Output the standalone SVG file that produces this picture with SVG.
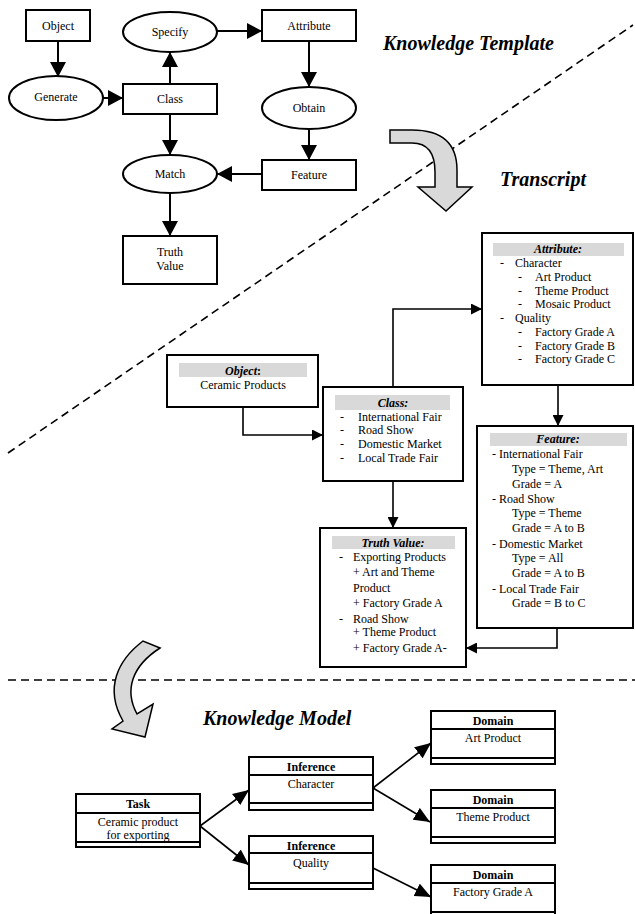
<svg xmlns="http://www.w3.org/2000/svg" width="635" height="914" viewBox="0 0 635 914">
<defs>
<style>
text{font-family:"Liberation Serif","Times New Roman",serif;font-size:12px;fill:#000}
.c{text-anchor:middle}
.bi{font-weight:bold;font-style:italic}
.b{font-weight:bold}
.title{font-size:20px;font-weight:bold;font-style:italic}
.n{fill:#fff;stroke:#000;stroke-width:2}
.tn{fill:#fff;stroke:#000;stroke-width:2}
.hdr{fill:#d9d9d9;stroke:none}
.lt{fill:none;stroke:#000;stroke-width:2}
.lm{fill:none;stroke:#000;stroke-width:1.6}
.lb{fill:none;stroke:#000;stroke-width:1.6}
.dash{fill:none;stroke:#000;stroke-width:1.6;stroke-dasharray:8,5}
.bigarrow{fill:#d9d9d9;stroke:#000;stroke-width:1.5}
.sep{stroke:#000;stroke-width:2}
</style>
<marker id="ahT" markerUnits="userSpaceOnUse" markerWidth="16" markerHeight="16" viewBox="0 0 15 16" refX="15" refY="8" orient="auto"><path d="M0,0 L15,8 L0,16 Z" fill="#000"/></marker>
<marker id="ahM" markerUnits="userSpaceOnUse" markerWidth="11" markerHeight="11" viewBox="0 0 10 10" refX="10" refY="5" orient="auto"><path d="M0,0 L10,5 L0,10 Z" fill="#000"/></marker>
<marker id="ahB" markerUnits="userSpaceOnUse" markerWidth="16" markerHeight="14" viewBox="0 0 15 13" refX="15" refY="6.5" orient="auto"><path d="M0,0 L15,6.5 L0,13 Z" fill="#000"/></marker>
</defs>
<rect width="635" height="914" fill="#fff"/>

<!-- separators and titles -->
<line class="dash" x1="8" y1="453" x2="633" y2="25"/>
<line class="dash" x1="8" y1="680" x2="635" y2="680"/>
<text class="title" x="383" y="50">Knowledge Template</text>
<text class="title" x="500" y="186">Transcript</text>
<text class="title" x="203" y="725">Knowledge Model</text>
<path class="bigarrow" d="M390,130 L412,130 Q457,130 457,170 L457,187 L472,187 L446,211 L418,187 L435,187 L435,172 Q435,143 412,143 L390,143 Z"/>
<path class="bigarrow" d="M143,641 C118,660 104,688 123,721 L112,729 L145,737 L153,704 L137,714 C124,690 132,666 160,648 Z"/>

<!-- connectors -->
<g id="connectors">
<line class="lt" x1="58" y1="41" x2="58" y2="77" marker-end="url(#ahT)"/>
<line class="lt" x1="103" y1="98" x2="123" y2="98" marker-end="url(#ahT)"/>
<line class="lt" x1="170" y1="84" x2="170" y2="52" marker-end="url(#ahT)"/>
<line class="lt" x1="217" y1="31" x2="262" y2="31" marker-end="url(#ahT)"/>
<line class="lt" x1="309" y1="41" x2="309" y2="87" marker-end="url(#ahT)"/>
<line class="lt" x1="309" y1="129" x2="309" y2="160" marker-end="url(#ahT)"/>
<line class="lt" x1="170" y1="114" x2="170" y2="155" marker-end="url(#ahT)"/>
<line class="lt" x1="262" y1="174" x2="217" y2="174" marker-end="url(#ahT)"/>
<line class="lt" x1="170" y1="193" x2="170" y2="236" marker-end="url(#ahT)"/>

<polyline class="lm" points="243,407 243,435 323,435" marker-end="url(#ahM)"/>
<polyline class="lm" points="393,387 393,309 482,309" marker-end="url(#ahM)"/>
<line class="lm" x1="558" y1="385" x2="558" y2="426" marker-end="url(#ahM)"/>
<line class="lm" x1="393" y1="481" x2="393" y2="528" marker-end="url(#ahM)"/>
<polyline class="lm" points="557,628 557,648 466,648" marker-end="url(#ahM)"/>

<line class="lb" x1="200" y1="826" x2="249" y2="790" marker-end="url(#ahB)"/>
<line class="lb" x1="200" y1="826" x2="249" y2="865" marker-end="url(#ahB)"/>
<line class="lb" x1="373" y1="788" x2="431" y2="743" marker-end="url(#ahB)"/>
<line class="lb" x1="373" y1="788" x2="430" y2="822" marker-end="url(#ahB)"/>
<line class="lb" x1="373" y1="868" x2="431" y2="897" marker-end="url(#ahB)"/>
</g>

<!-- template nodes -->
<g id="t-object"><rect class="n" x="26" y="10" width="64" height="31"/><text class="c" x="58" y="30">Object</text></g>
<g id="t-specify"><ellipse class="n" cx="170" cy="32" rx="47" ry="20"/><text class="c" x="170" y="36">Specify</text></g>
<g id="t-attribute"><rect class="n" x="262" y="10" width="94" height="31"/><text class="c" x="309" y="30">Attribute</text></g>
<g id="t-generate"><ellipse class="n" cx="56" cy="98" rx="47" ry="22"/><text class="c" x="56" y="101">Generate</text></g>
<g id="t-class"><rect class="n" x="123" y="84" width="94" height="30"/><text class="c" x="170" y="103">Class</text></g>
<g id="t-obtain"><ellipse class="n" cx="309" cy="108" rx="47" ry="21"/><text class="c" x="309" y="112">Obtain</text></g>
<g id="t-match"><ellipse class="n" cx="170" cy="174" rx="47" ry="19"/><text class="c" x="170" y="178">Match</text></g>
<g id="t-feature"><rect class="n" x="262" y="160" width="94" height="30"/><text class="c" x="309" y="179">Feature</text></g>
<g id="t-truth"><rect class="n" x="123" y="236" width="94" height="48"/><text class="c" x="170" y="256">Truth</text><text class="c" x="170" y="270">Value</text></g>

<!-- transcript nodes -->
<g id="s-object"><rect class="tn" x="167" y="355" width="151" height="52"/><rect class="hdr" x="179" y="363" width="128" height="14"/>
<text class="c" x="243" y="375"><tspan class="bi">Object</tspan><tspan class="b">:</tspan></text>
<text class="c" x="243" y="389">Ceramic Products</text></g>

<g id="s-class"><rect class="tn" x="323" y="387" width="140" height="94"/><rect class="hdr" x="335" y="395" width="115" height="15"/>
<text class="c bi" x="393" y="407">Class:</text>
<text x="340" y="421">-</text><text x="358" y="421">International Fair</text>
<text x="340" y="434">-</text><text x="358" y="434">Road Show</text>
<text x="340" y="448">-</text><text x="358" y="448">Domestic Market</text>
<text x="340" y="462">-</text><text x="358" y="462">Local Trade Fair</text></g>

<g id="s-attribute"><rect class="tn" x="482" y="233" width="151" height="152"/><rect class="hdr" x="493" y="243" width="131" height="13"/>
<text class="c bi" x="558" y="253">Attribute:</text>
<text x="500" y="267">-</text><text x="515" y="267">Character</text>
<text x="518" y="281">-</text><text x="535" y="281">Art Product</text>
<text x="518" y="295">-</text><text x="535" y="295">Theme Product</text>
<text x="518" y="308">-</text><text x="535" y="308">Mosaic Product</text>
<text x="500" y="322">-</text><text x="515" y="322">Quality</text>
<text x="518" y="336">-</text><text x="535" y="336">Factory Grade A</text>
<text x="518" y="350">-</text><text x="535" y="350">Factory Grade B</text>
<text x="518" y="363">-</text><text x="535" y="363">Factory Grade C</text></g>

<g id="s-feature"><rect class="tn" x="477" y="426" width="156" height="202"/><rect class="hdr" x="490" y="433" width="137" height="13"/>
<text class="c bi" x="558" y="443">Feature:</text>
<text x="492" y="458">- International Fair</text>
<text x="512" y="473">Type = Theme, Art</text>
<text x="512" y="488">Grade = A</text>
<text x="492" y="503">- Road Show</text>
<text x="512" y="517">Type = Theme</text>
<text x="512" y="532">Grade = A to B</text>
<text x="492" y="548">- Domestic Market</text>
<text x="512" y="562">Type = All</text>
<text x="512" y="577">Grade = A to B</text>
<text x="492" y="593">- Local Trade Fair</text>
<text x="512" y="607">Grade = B to C</text></g>

<g id="s-truth"><rect class="tn" x="320" y="528" width="146" height="139"/><rect class="hdr" x="332" y="536" width="123" height="13"/>
<text class="c bi" x="393" y="547">Truth Value:</text>
<text x="339" y="561">-</text><text x="353" y="561">Exporting Products</text>
<text x="353" y="576">+ Art and Theme</text>
<text x="353" y="592">Product</text>
<text x="353" y="607">+ Factory Grade A</text>
<text x="339" y="623">-</text><text x="353" y="623">Road Show</text>
<text x="353" y="636">+ Theme Product</text>
<text x="353" y="652">+ Factory Grade A-</text></g>

<!-- knowledge model nodes -->
<g id="m-task"><rect class="n" x="76" y="794" width="124" height="53"/><line class="sep" x1="76" y1="813" x2="200" y2="813"/><line class="sep" x1="76" y1="842" x2="200" y2="842"/>
<text class="c b" x="138" y="808">Task</text><text class="c" x="138" y="826">Ceramic product</text><text class="c" x="138" y="839">for exporting</text></g>
<g id="m-inf1"><rect class="n" x="249" y="757" width="124" height="53"/><line class="sep" x1="249" y1="775" x2="373" y2="775"/><line class="sep" x1="249" y1="803" x2="373" y2="803"/>
<text class="c b" x="311" y="771">Inference</text><text class="c" x="311" y="788">Character</text></g>
<g id="m-inf2"><rect class="n" x="249" y="836" width="124" height="53"/><line class="sep" x1="249" y1="853" x2="373" y2="853"/><line class="sep" x1="249" y1="883" x2="373" y2="883"/>
<text class="c b" x="311" y="850">Inference</text><text class="c" x="311" y="867">Quality</text></g>
<g id="m-dom1"><rect class="n" x="431" y="711" width="124" height="53"/><line class="sep" x1="431" y1="729" x2="555" y2="729"/><line class="sep" x1="431" y1="758" x2="555" y2="758"/>
<text class="c b" x="493" y="725">Domain</text><text class="c" x="493" y="742">Art Product</text></g>
<g id="m-dom2"><rect class="n" x="431" y="790" width="124" height="53"/><line class="sep" x1="431" y1="808" x2="555" y2="808"/><line class="sep" x1="431" y1="837" x2="555" y2="837"/>
<text class="c b" x="493" y="804">Domain</text><text class="c" x="493" y="821">Theme Product</text></g>
<g id="m-dom3"><rect class="n" x="431" y="865" width="124" height="53"/><line class="sep" x1="431" y1="883" x2="555" y2="883"/><line class="sep" x1="431" y1="912" x2="555" y2="912"/>
<text class="c b" x="493" y="879">Domain</text><text class="c" x="493" y="896">Factory Grade A</text></g>
</svg>
